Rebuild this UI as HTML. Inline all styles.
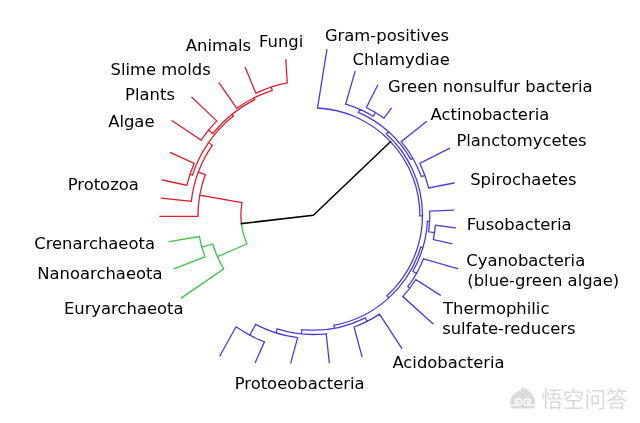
<!DOCTYPE html><html><head><meta charset="utf-8"><title>Tree of life</title>
<style>html,body{margin:0;padding:0;background:#fff}svg{display:block;will-change:transform}
text{font-family:"DejaVu Sans","Liberation Sans",sans-serif;font-size:16.4px;fill:#000}
</style></head><body>
<svg width="640" height="423" viewBox="0 0 640 423">
<rect width="640" height="423" fill="#ffffff"/>
<g fill="none" stroke="#dc2030" stroke-width="1.3" stroke-linecap="square" stroke-linejoin="miter"><path d="M287.3 82.9 A134.8 134.8 0 0 0 255.9 93.2 M271.2 87.1 L272.2 90.3 M287.3 82.9 L285.8 59.8 M255.9 93.2 L245.3 67.6 M272.2 90.3 A131.5 131.5 0 0 0 236.8 108.3 M253.8 97.9 L254.7 99.7 M236.8 108.3 L219.1 82.8 M254.7 99.7 A129.5 129.5 0 0 0 212.8 133.5 M232.0 114.4 L233.4 116.1 M216.7 120.9 A135.0 135.0 0 0 0 201.1 140.1 M208.5 130.1 L212.8 133.5 M216.7 120.9 L191.9 97.3 M201.1 140.1 L172.2 120.7 M233.4 116.1 A127.3 127.3 0 0 0 192.4 175.2 M208.6 142.7 L212.3 145.3 M194.1 163.4 A130.0 130.0 0 0 0 186.8 185.3 M189.9 174.4 L192.4 175.2 M194.1 163.4 L170.7 152.6 M186.8 185.3 L162.5 180.0 M212.3 145.3 A122.8 122.8 0 0 0 191.3 201.4 M198.4 172.0 L205.4 174.6 M191.3 201.4 L161.3 198.2 M205.4 174.6 A115.3 115.3 0 0 0 198.0 216.4 M199.8 195.2 L242.0 202.6 M198.0 216.4 L160.0 216.4 M242.0 202.6 A72.4 72.4 0 0 0 241.4 223.6"/></g>
<g fill="none" stroke="#3cc24a" stroke-width="1.3" stroke-linecap="square" stroke-linejoin="miter"><path d="M241.4 223.6 A72.4 72.4 0 0 0 246.9 244.0 M246.9 244.0 L217.4 256.7 M212.8 244.0 A104.5 104.5 0 0 0 223.7 269.0 M223.7 269.0 L181.5 297.9 M212.8 244.0 L201.8 247.2 M199.3 236.5 A116.0 116.0 0 0 0 205.0 256.8 M199.3 236.5 L169.3 241.6 M205.0 256.8 L174.3 268.6"/></g>
<g fill="none" stroke="#4a3cd8" stroke-width="1.3" stroke-linecap="square" stroke-linejoin="miter"><path d="M317.5 108.0 A107.6 107.6 0 0 1 419.9 215.8 M317.5 108.0 L326.9 49.7 M419.9 215.8 L422.5 215.8 M386.4 134.0 A109.2 109.2 0 0 1 386.9 295.8 M386.4 134.0 L388.4 131.7 M358.4 112.4 A112.3 112.3 0 0 1 410.8 159.4 M358.4 112.4 L359.8 109.3 M345.6 104.2 A115.6 115.6 0 0 1 373.1 116.3 M345.6 104.2 L355.0 71.6 M373.1 116.3 L375.4 112.5 M366.3 107.5 A120.0 120.0 0 0 1 384.0 118.2 M366.3 107.5 L377.7 85.3 M384.0 118.2 L391.2 108.4 M410.8 159.4 L412.8 158.2 M401.3 141.6 A114.7 114.7 0 0 1 421.3 176.6 M401.3 141.6 L426.5 121.6 M421.3 176.6 L424.9 175.4 M419.8 163.3 A118.5 118.5 0 0 1 428.6 187.9 M419.8 163.3 L449.4 148.4 M428.6 187.9 L454.0 183.0 M386.9 295.8 L388.8 297.9 M420.7 247.0 A112.0 112.0 0 0 1 333.9 325.3 M420.7 247.0 L422.9 247.7 M427.4 221.2 A114.3 114.3 0 0 1 412.9 271.3 M427.4 221.2 L429.6 221.3 M429.7 211.1 A116.5 116.5 0 0 1 428.6 231.8 M429.7 211.1 L453.4 210.1 M428.6 231.8 L434.5 232.7 M435.4 225.2 A122.5 122.5 0 0 1 433.3 239.6 M435.4 225.2 L455.2 227.8 M433.3 239.6 L451.7 243.6 M412.9 271.3 L416.5 273.4 M423.5 258.8 A118.5 118.5 0 0 1 407.8 286.7 M423.5 258.8 L457.5 268.6 M407.8 286.7 L409.8 288.2 M415.8 279.5 A121.0 121.0 0 0 1 402.8 296.6 M415.8 279.5 L440.2 295.1 M402.8 296.6 L433.0 323.7 M333.9 325.3 L334.5 328.2 M365.3 317.8 A115.0 115.0 0 0 1 301.9 329.6 M365.3 317.8 L367.1 321.3 M379.5 314.1 A119.0 119.0 0 0 1 354.0 327.0 M379.5 314.1 L401.8 348.3 M354.0 327.0 L362.0 356.6 M301.9 329.6 L301.5 333.9 M326.2 333.8 A119.3 119.3 0 0 1 277.2 328.9 M326.2 333.8 L329.3 362.6 M277.2 328.9 L276.0 332.9 M297.6 337.7 A123.5 123.5 0 0 1 255.6 324.4 M297.6 337.7 L290.8 362.9 M255.6 324.4 L249.9 335.3 M264.4 341.9 A135.8 135.8 0 0 1 236.0 326.8 M264.4 341.9 L255.4 362.3 M236.0 326.8 L220.0 355.7"/></g>
<g fill="none" stroke="#000000" stroke-width="1.5" stroke-linecap="square" stroke-linejoin="miter"><path d="M241.4 223.6 L313.3 215.2 L390.4 141.7"/></g>
<text x="185.8" y="50.8">Animals</text>
<text x="259.0" y="47.0">Fungi</text>
<text x="110.5" y="75.3">Slime molds</text>
<text x="125.1" y="100.3">Plants</text>
<text x="108.2" y="126.8">Algae</text>
<text x="67.7" y="189.6">Protozoa</text>
<text x="34.2" y="249.0">Crenarchaeota</text>
<text x="37.3" y="279.2">Nanoarchaeota</text>
<text x="63.9" y="314.4">Euryarchaeota</text>
<text x="234.7" y="389.2">Protoeobacteria</text>
<text x="392.4" y="368.1">Acidobacteria</text>
<text x="443.0" y="313.7">Thermophilic</text>
<text x="442.2" y="334.0">sulfate-reducers</text>
<text x="466.3" y="266.4">Cyanobacteria</text>
<text x="467.3" y="286.1">(blue-green algae)</text>
<text x="466.8" y="230.3">Fusobacteria</text>
<text x="470.2" y="184.9">Spirochaetes</text>
<text x="456.4" y="146.0">Planctomycetes</text>
<text x="430.6" y="119.8">Actinobacteria</text>
<text x="388.0" y="92.2">Green nonsulfur bacteria</text>
<text x="352.6" y="64.6">Chlamydiae</text>
<text x="324.9" y="41.0">Gram-positives</text>
<g id="wm">
<path fill="#dbdbdb" d="M511.4 408.6 L534.2 408.6 C535.2 405.4 535.5 402.4 535 400 C534 395.2 530.4 392 527.6 390.2 C526.8 389.4 526.2 388.6 525.7 387.8 C525.2 388.6 524.8 389.2 524.4 389.8 C523.8 388.6 523.2 387.4 522.8 386.2 C521.9 388 521 389.2 520 390.2 C515.6 392 511.6 395.2 510.6 400 C510.1 402.4 510.4 405.4 511.4 408.6 Z"/>
<g fill="none" stroke="#ffffff" stroke-width="1.3" stroke-linecap="round">
<path d="M511.2 405.2 L518.6 405.2 C523 405.2 522.8 398.8 518.2 398.8 C514.6 398.8 514.2 403 517.4 403 C518.6 403 518.8 401.6 517.8 401.4"/>
<path d="M534.4 405.2 L527 405.2 C522.6 405.2 522.8 398.8 527.4 398.8 C531 398.8 531.4 403 528.2 403 C527 403 526.8 401.6 527.8 401.4"/>
</g>
<text x="541.2" y="407.2" style="font-family:'Liberation Sans','Noto Sans CJK SC',sans-serif;font-size:21.6px;font-weight:400;fill:#dadada">悟空问答</text>
</g>

</svg></body></html>
